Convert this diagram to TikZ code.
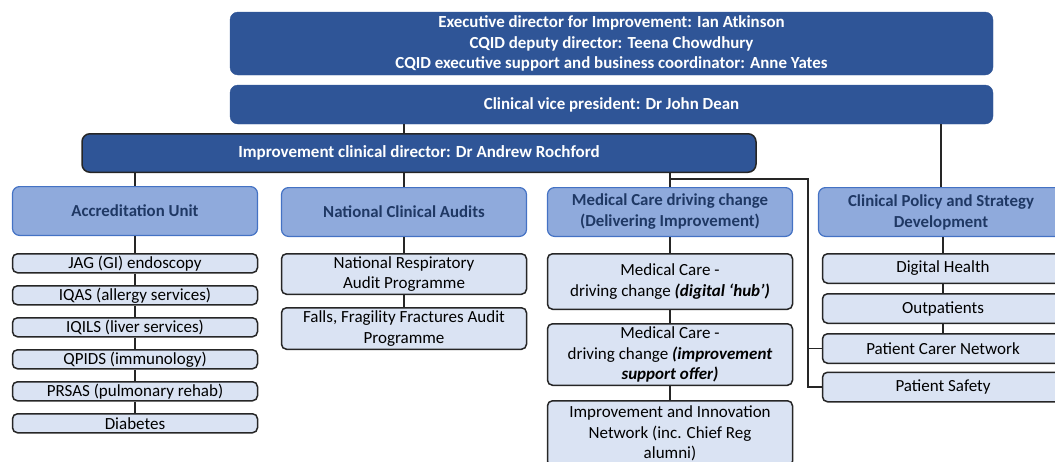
\documentclass[tikz,border=0pt]{standalone}
\usepackage{fontspec}
\setmainfont{Carlito}
\usetikzlibrary{positioning}

\definecolor{darkblue}{HTML}{2F5597}
\definecolor{midblue}{HTML}{8FAADC}
\definecolor{lineblue}{HTML}{4472C4}
\definecolor{paleblue}{HTML}{DAE3F3}
\definecolor{navy}{HTML}{1F3864}

\tikzset{
  head/.style={rectangle, rounded corners=8pt, fill=darkblue, draw=darkblue,
    text=white, align=center, minimum width=763pt,
    font=\bfseries\fontsize{16.9}{20.5}\selectfont},
  lead/.style={rectangle, rounded corners=8pt, fill=darkblue, draw=black!85,
    line width=1.5pt, text=white, minimum width=674pt, minimum height=38.5pt,
    font=\bfseries\fontsize{17}{20}\selectfont},
  unit/.style={rectangle, rounded corners=7pt, fill=midblue, draw=lineblue,
    line width=1.2pt, text=navy, align=center, minimum width=245pt,
    minimum height=48.8pt, font=\bfseries\fontsize{16.8}{21}\selectfont},
  item/.style={rectangle, rounded corners=5pt, fill=paleblue, draw=black!85,
    line width=1.5pt, align=center, minimum width=245pt, inner ysep=1pt,
    font=\fontsize{17}{20.5}\selectfont},
  link/.style={draw=black!85, line width=1.5pt}
}

\begin{document}
\begin{tikzpicture}[x=1pt, y=-1pt]
  \useasboundingbox (0,0) rectangle (1055,461);
  \clip (0,0) rectangle (1055,461);
  % Define nodes
  \node[head, minimum height=63pt] (exec) at (611.5,43.5)
    {Executive director for Improvement: Ian Atkinson\\
     CQID deputy director: Teena Chowdhury\\
     CQID executive support and business coordinator: Anne Yates};
  \node[head, minimum height=39pt] (cvp) at (611.5,104.5) {Clinical vice president: Dr John Dean};
  \node[lead] (icd) at (419,153) {Improvement clinical director: Dr Andrew Rochford};

  \node[unit] (acc) at (135,211) {Accreditation Unit};
  \node[unit] (nca) at (404,212) {National Clinical Audits};
  \node[unit] (med) at (670,212) {Medical Care driving change\\(Delivering Improvement)};
  \node[unit] (policy) at (941,212) {Clinical Policy and Strategy\\Development};

  \node[item, minimum height=19pt, below=17pt of acc] (jag) {JAG (GI) endoscopy};
  \node[item, minimum height=19pt, below=11.5pt of jag] (iqas) {IQAS (allergy services)};
  \node[item, minimum height=19pt, below=11.5pt of iqas] (iqils) {IQILS (liver services)};
  \node[item, minimum height=19pt, below=11.5pt of iqils] (qpids) {QPIDS (immunology)};
  \node[item, minimum height=19pt, below=11.5pt of qpids] (prsas) {PRSAS (pulmonary rehab)};
  \node[item, minimum height=19pt, below=11.5pt of prsas] (diab) {Diabetes};

  \node[item, minimum height=40.5pt, below=16pt of nca] (nrap) {National Respiratory\\Audit Programme};
  \node[item, minimum height=41.5pt, below=12pt of nrap] (falls) {Falls, Fragility Fractures Audit\\Programme};

  \node[item, minimum height=55.5pt, below=16pt of med] (hub)
    {Medical Care -\\driving change \textbf{\textit{(digital ‘hub’)}}};
  \node[item, minimum height=61.5pt, below=13pt of hub] (offer)
    {Medical Care -\\driving change \textbf{\textit{(improvement}}\\\textbf{\textit{support offer)}}};
  \node[item, minimum height=65.5pt, below=14pt of offer] (network)
    {Improvement and Innovation\\Network (inc. Chief Reg\\alumni)};

  \node[item, minimum width=241pt, minimum height=29.5pt, below=16pt of policy, xshift=2pt] (digital) {Digital Health};
  \node[item, minimum width=241pt, minimum height=29.5pt, below=9pt of digital] (outpat) {Outpatients};
  \node[item, minimum width=241pt, minimum height=29.5pt, below=9pt of outpat] (pcn) {Patient Carer Network};
  \node[item, minimum width=241pt, minimum height=29.5pt, below=7.5pt of pcn] (safety) {Patient Safety};

  \coordinate (jn) at (808,179);
  % Connect nodes
  \draw[link] (nca.north |- cvp.south) -- (nca.north |- icd.north);
  \draw[link] (policy.north |- cvp.south) -- (policy.north);
  \draw[link] (icd.south -| acc.north) -- (acc.north);
  \draw[link] (icd.south -| nca.north) -- (nca.north);
  \draw[link] (icd.south -| med.north) -- (med.north);
  \draw[link] (med.north |- jn) -- (jn) |- (safety.west);
  \draw[link] (jn |- pcn.west) -- (pcn.west);
  \foreach \a/\b in {acc/jag, jag/iqas, iqas/iqils, iqils/qpids, qpids/prsas, prsas/diab,
                     nca/nrap, nrap/falls, med/hub, hub/offer, offer/network,
                     digital/outpat, outpat/pcn}
    \draw[link] (\a.south) -- (\b.north);
  \draw[link] (policy.south -| digital.north) -- (digital.north);
\end{tikzpicture}
\end{document}
